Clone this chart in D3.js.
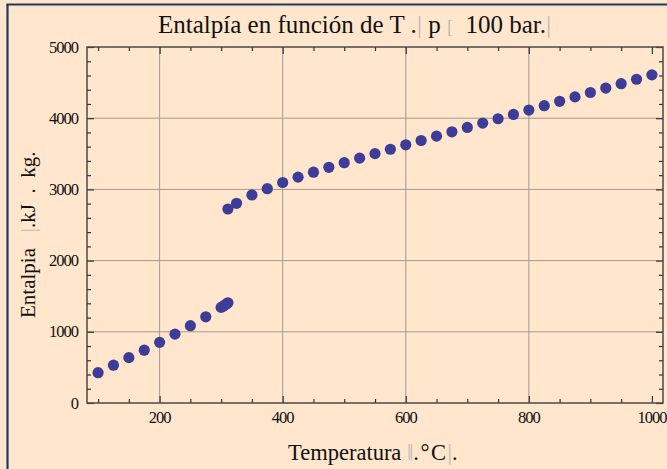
<!DOCTYPE html>
<html>
<head>
<meta charset="utf-8">
<script src="https://cdn.jsdelivr.net/npm/d3@7"></script>
<style>
body { margin: 0; background: #FFE6CC; }
svg { display: block; }
text { font-family: "Liberation Serif", "Times New Roman", serif; fill: #111; white-space: pre; }
</style>
</head>
<body>
<svg id="chart" width="667" height="469"></svg>
<script>
// water at 100 bar, liquid branch and vapour branch
const tLiquid = [100, 125, 150, 175, 200, 225, 250, 275, 300, 303, 306, 309, 311];
const hLiquid = [426, 531, 637, 742, 852, 967, 1086, 1211, 1343, 1359, 1376, 1394, 1408];
const tVapor = [311, 325, 350, 375, 400, 425, 450, 475, 500, 525, 550, 575, 600, 625, 650,
                675, 700, 725, 750, 775, 800, 825, 850, 875, 900, 925, 950, 975, 1000];
const hVapor = [2725, 2805, 2922, 3010, 3097, 3172, 3242, 3310, 3375, 3439, 3502, 3564, 3626, 3687, 3748,
                3809, 3870, 3931, 3992, 4053, 4114, 4176, 4237, 4299, 4361, 4423, 4485, 4547, 4609];
const xMajor = [200, 400, 600, 800, 1000];
const yMajor = [0, 1000, 2000, 3000, 4000, 5000];

var svg = d3.select("#chart");
var pLeft = 87, pRight = 663, pTop = 47, pBottom = 403;

var x = d3.scaleLinear().domain([82, 1018]).range([pLeft, pRight]);
var y = d3.scaleLinear().domain([0, 5000]).range([pBottom, pTop]);

// outer panel border (only left and top visible)
svg.append("line").attr("x1", 7.5).attr("x2", 7.5).attr("y1", 4).attr("y2", 469)
    .attr("stroke", "#1c3a5e").attr("stroke-width", 2.2);
svg.append("line").attr("x1", 6.5).attr("x2", 667).attr("y1", 4.5).attr("y2", 4.5)
    .attr("stroke", "#1c3a5e").attr("stroke-width", 2.2);

// grid
var grid = svg.append("g").attr("stroke", "#a09a94").attr("stroke-width", 1);
grid.selectAll(".gx").data(xMajor.filter(d => d < 1000)).enter().append("line")
    .attr("x1", d => x(d)).attr("x2", d => x(d)).attr("y1", pTop).attr("y2", pBottom);
grid.selectAll(".gy").data(yMajor.filter(d => d > 0 && d < 5000)).enter().append("line")
    .attr("y1", d => y(d)).attr("y2", d => y(d)).attr("x1", pLeft).attr("x2", pRight);

// ticks, inward, on all four sides
var xMinor = d3.range(100, 1001, 50).filter(d => xMajor.indexOf(d) < 0);
var yMinor = d3.range(200, 5000, 200).filter(d => yMajor.indexOf(d) < 0);

function tickAxis(axis, vals, size, pos) {
  var g = svg.append("g").attr("transform", pos)
      .call(axis.tickValues(vals).tickSize(size).tickFormat(""));
  g.select(".domain").remove();
  g.selectAll("text").remove();
  g.selectAll("line").attr("stroke", "#333").attr("stroke-width", 1.2);
  return g;
}
tickAxis(d3.axisBottom(x), xMajor, -7, "translate(0," + pBottom + ")");
tickAxis(d3.axisBottom(x), xMinor, -4, "translate(0," + pBottom + ")");
tickAxis(d3.axisTop(x), xMajor, -7, "translate(0," + pTop + ")");
tickAxis(d3.axisTop(x), xMinor, -4, "translate(0," + pTop + ")");
tickAxis(d3.axisLeft(y), yMajor, -7, "translate(" + pLeft + ",0)");
tickAxis(d3.axisLeft(y), yMinor, -4, "translate(" + pLeft + ",0)");
tickAxis(d3.axisRight(y), yMajor, -7, "translate(" + pRight + ",0)");
tickAxis(d3.axisRight(y), yMinor, -4, "translate(" + pRight + ",0)");

// frame
svg.append("rect").attr("x", pLeft).attr("y", pTop)
    .attr("width", pRight - pLeft).attr("height", pBottom - pTop)
    .attr("fill", "none").attr("stroke", "#4a4a4a").attr("stroke-width", 1.5);

// tick labels
svg.selectAll(".xl").data(xMajor).enter().append("text")
    .attr("x", d => x(d)).attr("y", 423).attr("text-anchor", "middle")
    .attr("font-size", 16.5).attr("letter-spacing", -1).text(d => d);
svg.selectAll(".yl").data(yMajor).enter().append("text")
    .attr("x", 78).attr("y", d => y(d) + 5.5).attr("text-anchor", "end")
    .attr("font-size", 16.5).attr("letter-spacing", -1).text(d => d);

// points
var pts = tLiquid.map((t, i) => [t, hLiquid[i]]).concat(tVapor.map((t, i) => [t, hVapor[i]]));
svg.selectAll(".dot").data(pts).enter().append("circle")
    .attr("cx", d => x(d[0])).attr("cy", d => y(d[1])).attr("r", 5.6)
    .attr("fill", "#3d3d99");

// title
var title = svg.append("text").attr("x", 158).attr("y", 33).attr("font-size", 25);
title.append("tspan").text("Entalpía en función de T ");
title.append("tspan").text(".");
title.append("tspan").attr("fill", "#bbb").attr("font-size", 26).text("|");
title.append("tspan").text(" p ");
title.append("tspan").attr("fill", "#bbb").attr("font-size", 18).text("[");
title.append("tspan").text("  100 bar");
title.append("tspan").text(".");
title.append("tspan").attr("fill", "#bbb").attr("font-size", 26).text("|");

// x label
var xl = svg.append("text").attr("x", 288).attr("y", 460).attr("font-size", 22.5);
xl.append("tspan").text("Temperatura ");
xl.append("tspan").attr("fill", "#bbb").text("‖");
xl.append("tspan").attr("letter-spacing", 1.5).text(".°C");
xl.append("tspan").attr("fill", "#bbb").text("|");
xl.append("tspan").text(".");

// y label
var yl = svg.append("text").attr("transform", "translate(35,318) rotate(-90)").attr("font-size", 21);
yl.append("tspan").text("Entalpia   ");
yl.append("tspan").attr("fill", "#bbb").text("|");
yl.append("tspan").text(".kJ  .  kg.");
</script>
</body>
</html>
